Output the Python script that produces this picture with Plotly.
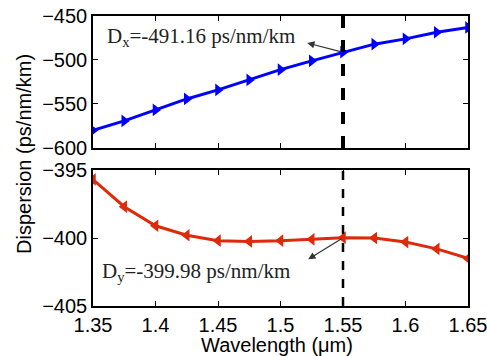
import plotly.graph_objects as go

wavelength = [1.35, 1.375, 1.4, 1.425, 1.45, 1.475, 1.5, 1.525, 1.55, 1.575, 1.6, 1.625, 1.65]
dx = [-580.0, -569.3, -556.8, -544.3, -534.0, -522.7, -511.0, -501.0, -491.16, -482.0, -476.0, -468.5, -463.0]
dy = [-395.7, -397.7, -399.1, -399.8, -400.2, -400.25, -400.2, -400.1, -399.98, -400.0, -400.3, -400.8, -401.5]
x_ticks = [1.35, 1.4, 1.45, 1.5, 1.55, 1.6, 1.65]
x_tick_labels = ["1.35", "1.4", "1.45", "1.5", "1.55", "1.6", "1.65"]
top_y_ticks = [-450, -500, -550, -600]
bot_y_ticks = [-395, -400, -405]
mark_wl = 1.55

TICKF = dict(family="Liberation Sans, Arial", size=20, color="black")
SERIF = dict(family="Liberation Serif, Times New Roman", size=21, color="#222")

fig = go.Figure()
fig.add_trace(go.Scatter(x=wavelength, y=dx, mode="lines+markers", xaxis="x", yaxis="y",
                         line=dict(color="#0000ff", width=3),
                         marker=dict(symbol="triangle-right", size=11, color="#0000ff")))
fig.add_trace(go.Scatter(x=wavelength, y=dy, mode="lines+markers", xaxis="x2", yaxis="y2",
                         line=dict(color="#dd2a0a", width=3),
                         marker=dict(symbol="triangle-left", size=11, color="#dd2a0a")))

ax_common = dict(showline=True, linecolor="black", linewidth=1.5, mirror="ticks", ticks="inside",
                 ticklen=5, tickcolor="black", showgrid=False, zeroline=False, tickfont=TICKF,
                 automargin=False, ticklabeloverflow="allow")

fig.update_layout(
    width=487, height=356, showlegend=False,
    paper_bgcolor="white", plot_bgcolor="white",
    margin=dict(l=93, r=19, t=16, b=50),
    xaxis=dict(domain=[0, 1], range=[1.35, 1.65], tickvals=x_ticks, showticklabels=False,
               anchor="y", **ax_common),
    yaxis=dict(domain=[0.545, 1], range=[-600, -450], tickvals=top_y_ticks, anchor="x", **ax_common),
    xaxis2=dict(domain=[0, 1], range=[1.35, 1.65], tickvals=x_ticks, ticktext=x_tick_labels,
                anchor="y2", **ax_common),
    yaxis2=dict(domain=[0, 0.469], range=[-405, -395], tickvals=bot_y_ticks, anchor="x2", **ax_common),
)

fig.add_shape(type="line", x0=mark_wl, x1=mark_wl, xref="x", yref="y domain", y0=0, y1=1,
              line=dict(color="black", width=4, dash="dash"))
fig.add_shape(type="line", x0=mark_wl, x1=mark_wl, xref="x2", yref="y2 domain", y0=0, y1=1,
              line=dict(color="black", width=2.5, dash="dash"))

# labels
fig.add_annotation(x=1.3598, y=-473.3, xref="x", yref="y", xanchor="left", yanchor="middle",
                   text="D<sub>x</sub>=-491.16 ps/nm/km", showarrow=False, font=SERIF)
fig.add_annotation(x=1.3559, y=-402.5, xref="x2", yref="y2", xanchor="left", yanchor="middle",
                   text="D<sub>y</sub>=-399.98 ps/nm/km", showarrow=False, font=SERIF)
# arrows (head at text, tail at data point)
fig.add_annotation(x=1.5214, y=-480.7, xref="x", yref="y", ax=mark_wl, ay=dx[8], axref="x", ayref="y",
                   text="", showarrow=True, arrowhead=2, arrowsize=1.2, arrowwidth=1.2, arrowcolor="#333")
fig.add_annotation(x=1.5222, y=-401.57, xref="x2", yref="y2", ax=mark_wl, ay=dy[8], axref="x2", ayref="y2",
                   text="", showarrow=True, arrowhead=2, arrowsize=1.2, arrowwidth=1.2, arrowcolor="#333")

# axis titles
fig.add_annotation(x=(277 - 93) / 375, y=-(345 - 306) / 290, xref="paper", yref="paper",
                   text="Wavelength (\u03bcm)", showarrow=False, font=TICKF,
                   xanchor="center", yanchor="middle")
fig.add_annotation(x=-(93 - 24) / 375, y=(306 - 154) / 290, xref="paper", yref="paper",
                   text="Dispersion (ps/nm/km)", textangle=-90, showarrow=False, font=TICKF,
                   xanchor="center", yanchor="middle")

fig.write_html("out.html", config={"displayModeBar": False},
               post_script="document.body.style.margin='0';document.body.style.overflow='hidden';")
